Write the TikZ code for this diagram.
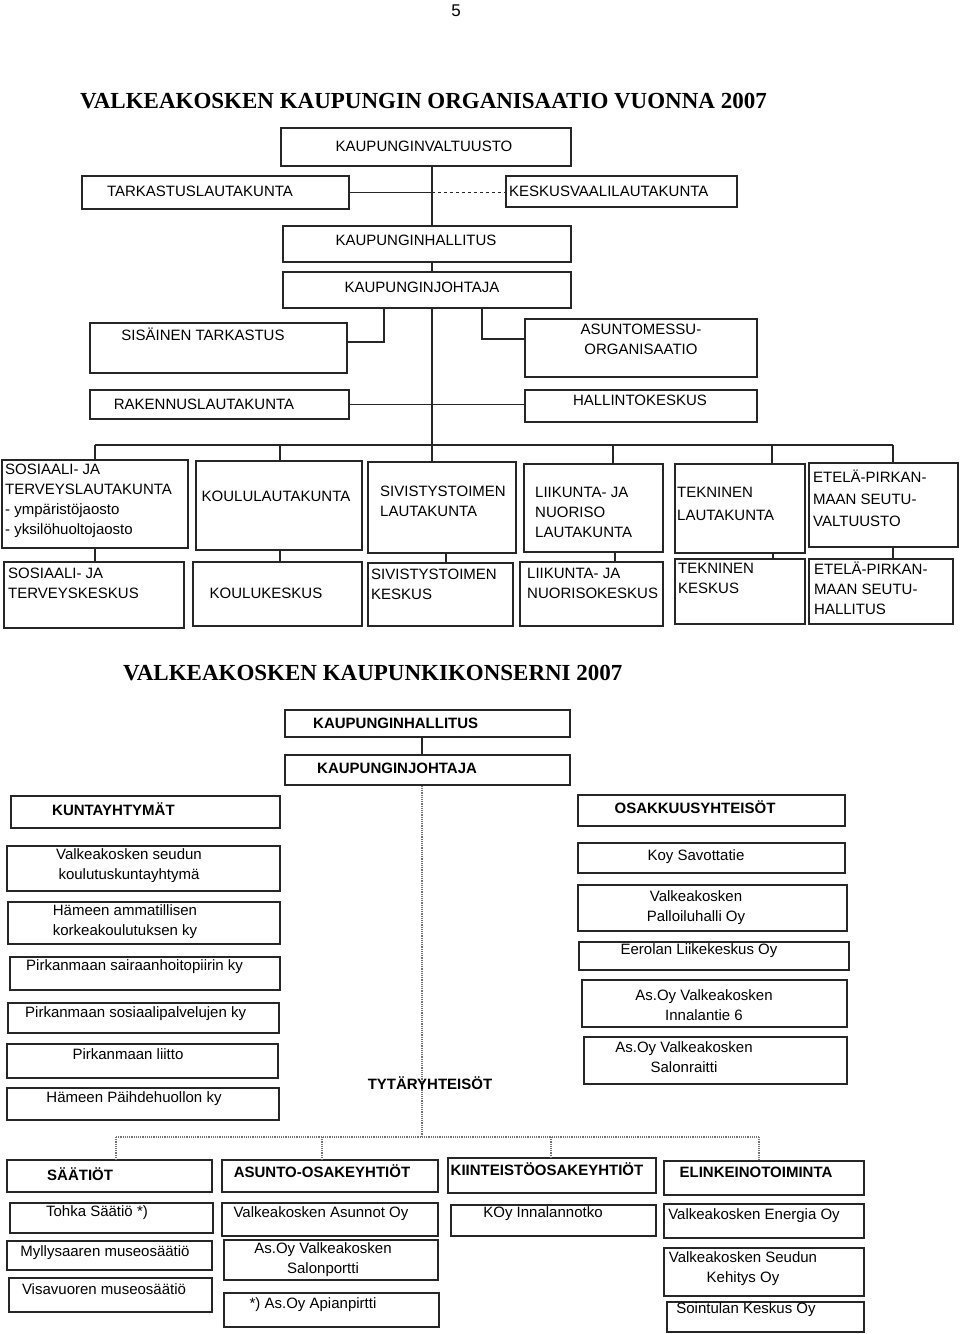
\documentclass[tikz,border=0pt]{standalone}
\usepackage{fontspec}
\setmainfont{Liberation Sans}
\newfontfamily\titlefont{Liberation Serif}

\tikzset{
  box/.style={draw=black!85, line width=1.6pt, fill=white, inner sep=0pt},
  txt/.style={inner sep=0pt, font=\fontsize{15}{20}\selectfont, align=left},
  btxt/.style={inner sep=0pt, font=\fontsize{15}{20}\selectfont\bfseries, align=left},
  ttl/.style={inner sep=0pt, font=\titlefont\bfseries\fontsize{23}{26}\selectfont},
  line/.style={draw=black!85, line width=1.6pt},
  dotline/.style={draw=black!55, line width=1.2pt, densely dotted}
}

% box from (x1,y1) to (x2,y2) in page pixels
\newcommand{\obox}[5]{\node[box, minimum width={(#4-#2)*1pt}, minimum height={(#5-#3)*1pt}] (#1) at ({(#2+#4)/2},{(#3+#5)/2}) {};}

\begin{document}
\begin{tikzpicture}[x=1pt, y=-1pt]
  \useasboundingbox (0,0) rectangle (960,1334);

  \node[txt, font=\fontsize{17}{20}\selectfont] (pnum) at (456,11) {5};
  \node[ttl, anchor=west] (ttl1) at (80,101) {VALKEAKOSKEN KAUPUNGIN ORGANISAATIO VUONNA 2007};

  % kaupungin organisaatio
  \obox{valt}{281}{128}{571}{166}
  \obox{tark}{82}{176}{349}{209}
  \obox{kvl}{506}{176}{737}{207}
  \obox{khal}{283}{226}{571}{262}
  \obox{kjoh}{283}{272}{571}{308}
  \obox{sis}{90}{323}{347}{373}
  \obox{asm}{525}{319}{757}{377}
  \obox{rak}{90}{390}{349}{419}
  \obox{hal}{525}{390}{757}{422}

  \node[txt] (valt-t) at (424,146) {KAUPUNGINVALTUUSTO};
  \node[txt] (tark-t) at (200,191) {TARKASTUSLAUTAKUNTA};
  \node[txt, anchor=west] (kvl-t) at (509,191) {KESKUSVAALILAUTAKUNTA};
  \node[txt] (khal-t) at (416,240) {KAUPUNGINHALLITUS};
  \node[txt] (kjoh-t) at (422,287) {KAUPUNGINJOHTAJA};
  \node[txt] (sis-t) at (203,334) {SISÄINEN TARKASTUS};
  \node[txt, align=center] (asm-t) at (641,339) {ASUNTOMESSU-\\ORGANISAATIO};
  \node[txt] (rak-t) at (204,404) {RAKENNUSLAUTAKUNTA};
  \node[txt] (hal-t) at (640,400) {HALLINTOKESKUS};

  % lautakunnat
  \obox{soslk}{2}{460}{188}{548}
  \obox{koulk}{196}{461}{362}{550}
  \obox{sivlk}{368}{462}{516}{553}
  \obox{liilk}{524}{464}{663}{552}
  \obox{teklk}{675}{464}{805}{553}
  \obox{etelk}{809}{463}{958}{547}

  \node[txt, anchor=west] (soslk-t) at (5,501) {SOSIAALI- JA\\TERVEYSLAUTAKUNTA\\- ympäristöjaosto\\- yksilöhuoltojaosto};
  \node[txt] (koulk-t) at (276,496) {KOULULAUTAKUNTA};
  \node[txt, anchor=west] (sivlk-t) at (380,501) {SIVISTYSTOIMEN\\LAUTAKUNTA};
  \node[txt, anchor=west] (liilk-t) at (535,512) {LIIKUNTA- JA\\NUORISO\\LAUTAKUNTA};
  \node[txt, anchor=west, font=\fontsize{15}{22.5}\selectfont] (teklk-t) at (677,504) {TEKNINEN\\LAUTAKUNTA};
  \node[txt, anchor=west, font=\fontsize{15}{22}\selectfont] (etelk-t) at (813,498) {ETELÄ-PIRKAN-\\MAAN SEUTU-\\VALTUUSTO};

  % keskukset
  \obox{soskk}{4}{562}{184}{628}
  \obox{koukk}{193}{562}{362}{626}
  \obox{sivkk}{368}{563}{513}{626}
  \obox{liikk}{520}{562}{663}{626}
  \obox{tekkk}{675}{559}{805}{624}
  \obox{etekk}{809}{559}{953}{624}

  \node[txt, anchor=west] (soskk-t) at (8,583) {SOSIAALI- JA\\TERVEYSKESKUS};
  \node[txt] (koukk-t) at (266,593) {KOULUKESKUS};
  \node[txt, anchor=west] (sivkk-t) at (371,584) {SIVISTYSTOIMEN\\KESKUS};
  \node[txt, anchor=west] (liikk-t) at (527,583) {LIIKUNTA- JA\\NUORISOKESKUS};
  \node[txt, anchor=west] (tekkk-t) at (678,578) {TEKNINEN\\KESKUS};
  \node[txt, anchor=west] (etekk-t) at (814,588) {ETELÄ-PIRKAN-\\MAAN SEUTU-\\HALLITUS};

  % yhteydet
  \coordinate (trunk) at (432,0);
  \coordinate (sisx) at (384,0);
  \coordinate (asmx) at (482,0);
  \draw[line] (valt.south -| trunk) -- (khal.north -| trunk);
  \draw[line] (khal.south -| trunk) -- (kjoh.north -| trunk);
  \draw[line] (kjoh.south -| trunk) -- (sivlk.north -| trunk);
  \draw[line] (tark.east) -- (tark.east -| trunk);
  \draw[line, dashed] (tark.east -| trunk) -- (tark.east -| kvl.west);
  \draw[line] (kjoh.south -| sisx) |- ([yshift=6pt]sis.east);
  \draw[line] (kjoh.south -| asmx) |- ([yshift=9pt]asm.west);
  \draw[line] (rak.east) -- (rak.east -| hal.west);

  \coordinate (busl) at (95,445);
  \coordinate (busr) at (893,445);
  \draw[line] (busl) -- (busr);
  \foreach \n/\x in {soslk/95, koulk/280, liilk/613, teklk/772, etelk/893} {
    \coordinate (d) at (\x,445);
    \draw[line] (d) -- (d |- \n.north);
  }
  \foreach \a/\b/\x in {soslk/soskk/95, koulk/koukk/280, sivlk/sivkk/446,
                        liilk/liikk/615, teklk/tekkk/773, etelk/etekk/893} {
    \coordinate (d) at (\x,0);
    \draw[line] (d |- \a.south) -- (d |- \b.north);
  }

  % kaupunkikonserni
  \node[ttl, anchor=west] (ttl2) at (123,673) {VALKEAKOSKEN KAUPUNKIKONSERNI 2007};

  \obox{khal2}{285}{710}{570}{737}
  \obox{kjoh2}{285}{755}{570}{785}
  \obox{kuy}{11}{796}{280}{828}
  \obox{osy}{578}{795}{845}{826}

  \node[btxt, anchor=west] (khal2-t) at (313,723) {KAUPUNGINHALLITUS};
  \node[btxt, anchor=west] (kjoh2-t) at (317,768) {KAUPUNGINJOHTAJA};
  \node[btxt, anchor=west] (kuy-t) at (52,809) {KUNTAYHTYMÄT};
  \node[btxt] (osy-t) at (695,807) {OSAKKUUSYHTEISÖT};

  \obox{ky1}{7}{846}{280}{891}
  \obox{ky2}{8}{902}{280}{944}
  \obox{ky3}{10}{957}{280}{990}
  \obox{ky4}{8}{1003}{279}{1033}
  \obox{ky5}{7}{1044}{278}{1078}
  \obox{ky6}{7}{1088}{279}{1120}

  \node[txt, align=center] (ky1-t) at (129,866) {Valkeakosken seudun\\koulutuskuntayhtymä};
  \node[txt, align=center] (ky2-t) at (125,922) {Hämeen ammatillisen\\korkeakoulutuksen ky};
  \node[txt, anchor=west] (ky3-t) at (26,967) {Pirkanmaan sairaanhoitopiirin ky};
  \node[txt, anchor=west] (ky4-t) at (25,1014) {Pirkanmaan sosiaalipalvelujen ky};
  \node[txt] (ky5-t) at (128,1054) {Pirkanmaan liitto};
  \node[txt] (ky6-t) at (134,1099) {Hämeen Päihdehuollon ky};

  \obox{oy1}{578}{843}{845}{873}
  \obox{oy2}{578}{885}{847}{931}
  \obox{oy3}{579}{942}{849}{970}
  \obox{oy4}{582}{980}{847}{1027}
  \obox{oy5}{584}{1037}{847}{1084}

  \node[txt] (oy1-t) at (696,857) {Koy Savottatie};
  \node[txt, align=center] (oy2-t) at (696,908) {Valkeakosken\\Palloiluhalli Oy};
  \node[txt] (oy3-t) at (699,951) {Eerolan Liikekeskus Oy};
  \node[txt, align=center] (oy4-t) at (704,1005) {As.Oy Valkeakosken\\Innalantie 6};
  \node[txt, align=center] (oy5-t) at (684,1057) {As.Oy Valkeakosken\\Salonraitti};

  % tytaryhteisot
  \coordinate (trunk2) at (422,0);
  \coordinate (bus2l) at (116,1137);
  \coordinate (bus2r) at (759,1137);
  \draw[line] (khal2.south -| trunk2) -- (kjoh2.north -| trunk2);
  \draw[dotline] (kjoh2.south -| trunk2) -- (bus2l -| trunk2);
  \draw[dotline] (bus2l) -- (bus2r);
  \node[btxt] (tyt-t) at (430,1083) {TYTÄRYHTEISÖT};

  \obox{saa}{7}{1160}{212}{1192}
  \obox{aso}{222}{1160}{438}{1192}
  \obox{kio}{448}{1158}{656}{1193}
  \obox{ela}{664}{1161}{864}{1195}
  \foreach \n/\x in {saa/116, aso/322, kio/551, ela/759} {
    \coordinate (d) at (\x,1137);
    \draw[dotline] (d) -- (d |- \n.north);
  }

  \node[btxt, anchor=west] (saa-t) at (47,1174) {SÄÄTIÖT};
  \node[btxt] (aso-t) at (322,1171) {ASUNTO-OSAKEYHTIÖT};
  \node[btxt] (kio-t) at (547,1169) {KIINTEISTÖOSAKEYHTIÖT};
  \node[btxt] (ela-t) at (756,1172) {ELINKEINOTOIMINTA};

  \obox{saa1}{10}{1203}{213}{1233}
  \obox{saa2}{7}{1241}{212}{1270}
  \obox{saa3}{9}{1278}{212}{1312}
  \obox{aso1}{222}{1203}{438}{1236}
  \obox{aso2}{224}{1240}{438}{1280}
  \obox{aso3}{224}{1293}{439}{1327}
  \obox{kio1}{451}{1205}{656}{1236}
  \obox{ela1}{664}{1204}{864}{1238}
  \obox{ela2}{664}{1248}{864}{1296}
  \obox{ela3}{667}{1302}{864}{1332}

  \node[txt] (saa1-t) at (97,1213) {Tohka Säätiö *)};
  \node[txt] (saa2-t) at (105,1253) {Myllysaaren museosäätiö};
  \node[txt] (saa3-t) at (104,1289) {Visavuoren museosäätiö};
  \node[txt] (aso1-t) at (321,1214) {Valkeakosken Asunnot Oy};
  \node[txt, align=center] (aso2-t) at (323,1260) {As.Oy Valkeakosken\\Salonportti};
  \node[txt] (aso3-t) at (313,1305) {*) As.Oy Apianpirtti};
  \node[txt] (kio1-t) at (543,1214) {KOy Innalannotko};
  \node[txt] (ela1-t) at (754,1216) {Valkeakosken Energia Oy};
  \node[txt, align=center] (ela2-t) at (743,1269) {Valkeakosken Seudun\\Kehitys Oy};
  \node[txt] (ela3-t) at (746,1310) {Sointulan Keskus Oy};
\end{tikzpicture}
\end{document}
